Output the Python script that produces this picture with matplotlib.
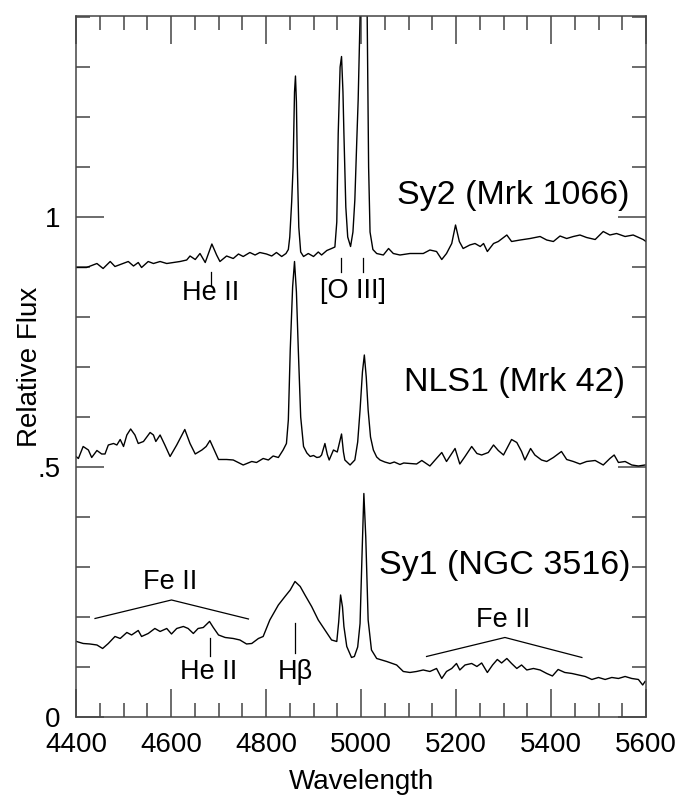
import matplotlib
matplotlib.use('Agg')
import matplotlib.pyplot as plt
from matplotlib.ticker import MultipleLocator

plt.rcParams['font.family'] = ['Liberation Sans', 'DejaVu Sans']

# Sy2 (Mrk 1066)
sy2_wl = [4401, 4422, 4444, 4457, 4472, 4482, 4496, 4510, 4521, 4531, 4538, 4552, 4563, 4577,
          4591, 4605, 4619, 4633, 4640, 4651, 4661, 4672, 4686, 4696, 4703, 4717, 4731, 4742,
          4752, 4766, 4777, 4787, 4801, 4812, 4822, 4833, 4842, 4847, 4850, 4854, 4857, 4860,
          4862, 4864, 4866, 4869, 4873, 4879, 4889, 4900, 4910, 4917, 4928, 4938, 4945, 4949,
          4952, 4956, 4959, 4962, 4964, 4968, 4972, 4978, 4983, 4987, 4991, 4994, 4998, 5002,
          5006, 5010, 5013, 5016, 5019, 5025, 5033, 5047, 5058, 5068, 5082, 5103, 5131, 5145,
          5159, 5170, 5180, 5191, 5199, 5207, 5215, 5229, 5240, 5251, 5258, 5266, 5279, 5289,
          5307, 5317, 5335, 5356, 5377, 5391, 5405, 5419, 5433, 5447, 5461, 5475, 5493, 5510,
          5524, 5538, 5556, 5573, 5594, 5600]
sy2_flux = [0.899, 0.899, 0.907, 0.897, 0.911, 0.901, 0.906, 0.911, 0.902, 0.909, 0.899, 0.911,
            0.907, 0.911, 0.907, 0.909, 0.911, 0.914, 0.922, 0.915, 0.927, 0.909, 0.946, 0.924,
            0.911, 0.922, 0.917, 0.926, 0.921, 0.929, 0.924, 0.929, 0.926, 0.922, 0.929, 0.921,
            0.927, 0.935, 0.96, 1.03, 1.10, 1.25, 1.282, 1.23, 1.10, 0.98, 0.93, 0.921, 0.927,
            0.921, 0.93, 0.924, 0.933, 0.937, 0.94, 0.99, 1.167, 1.30, 1.321, 1.25, 1.167, 1.02,
            0.96, 0.941, 0.97, 1.034, 1.15, 1.234, 1.40, 1.8, 2.1, 1.9, 1.40, 1.1, 0.97, 0.935,
            0.927, 0.924, 0.937, 0.927, 0.924, 0.927, 0.927, 0.934, 0.931, 0.915, 0.927, 0.947,
            0.984, 0.951, 0.937, 0.944, 0.947, 0.941, 0.947, 0.931, 0.947, 0.951, 0.964, 0.951,
            0.954, 0.957, 0.961, 0.954, 0.951, 0.962, 0.957, 0.961, 0.964, 0.959, 0.955, 0.971,
            0.964, 0.967, 0.961, 0.964, 0.955, 0.951]

# NLS1 (Mrk 42)
nls1_wl = [4400, 4405, 4415, 4426, 4433, 4444, 4454, 4461, 4468, 4479, 4486, 4493, 4500, 4507,
           4515, 4524, 4531, 4542, 4556, 4563, 4568, 4577, 4587, 4598, 4612, 4629, 4640, 4651,
           4665, 4674, 4682, 4691, 4700, 4717, 4731, 4752, 4770, 4780, 4794, 4805, 4815, 4826,
           4836, 4843, 4847, 4851, 4856, 4860, 4864, 4868, 4873, 4879, 4886, 4893, 4900, 4907,
           4913, 4917, 4924, 4929, 4933, 4942, 4950, 4955, 4959, 4963, 4966, 4977, 4987, 4993,
           4998, 5003, 5007, 5011, 5015, 5020, 5026, 5033, 5040, 5050, 5061, 5070, 5082, 5090,
           5103, 5117, 5128, 5145, 5156, 5170, 5180, 5198, 5208, 5219, 5233, 5244, 5254, 5268,
           5279, 5289, 5300, 5317, 5328, 5338, 5345, 5357, 5366, 5380, 5391, 5405, 5422, 5433,
           5447, 5461, 5475, 5493, 5510, 5524, 5533, 5542, 5556, 5570, 5584, 5598]
nls1_flux = [0.521, 0.517, 0.541, 0.534, 0.519, 0.533, 0.526, 0.526, 0.544, 0.547, 0.544, 0.555,
             0.541, 0.564, 0.576, 0.564, 0.547, 0.551, 0.569, 0.564, 0.551, 0.564, 0.544, 0.521,
             0.544, 0.575, 0.547, 0.526, 0.534, 0.541, 0.553, 0.534, 0.515, 0.515, 0.514, 0.504,
             0.511, 0.509, 0.517, 0.514, 0.522, 0.519, 0.534, 0.547, 0.594, 0.734, 0.86, 0.911,
             0.85, 0.734, 0.60, 0.541, 0.528, 0.521, 0.523, 0.519, 0.52, 0.524, 0.547, 0.525,
             0.514, 0.534, 0.53, 0.55, 0.566, 0.53, 0.514, 0.504, 0.514, 0.55, 0.614, 0.69, 0.724,
             0.68, 0.614, 0.56, 0.534, 0.52, 0.514, 0.51, 0.507, 0.51, 0.505, 0.508, 0.507, 0.506,
             0.513, 0.502, 0.514, 0.529, 0.511, 0.537, 0.506, 0.521, 0.541, 0.527, 0.524, 0.529,
             0.544, 0.533, 0.524, 0.555, 0.549, 0.531, 0.514, 0.537, 0.524, 0.514, 0.511, 0.519,
             0.531, 0.515, 0.511, 0.506, 0.511, 0.513, 0.504, 0.517, 0.524, 0.509, 0.511, 0.504,
             0.502, 0.504]

# Sy1 (NGC 3516)
sy1_wl = [4401, 4415, 4429, 4444, 4456, 4468, 4482, 4493, 4507, 4517, 4531, 4538, 4552, 4566,
          4577, 4591, 4601, 4612, 4626, 4636, 4647, 4657, 4668, 4681, 4689, 4700, 4714, 4731,
          4745, 4759, 4770, 4784, 4794, 4808, 4826, 4840, 4851, 4861, 4872, 4882, 4896, 4910,
          4924, 4938, 4949, 4953, 4957, 4961, 4964, 4970, 4980, 4986, 4993, 4998, 5002, 5006,
          5010, 5015, 5022, 5033, 5054, 5075, 5089, 5103, 5117, 5131, 5145, 5159, 5170, 5180,
          5191, 5201, 5208, 5219, 5233, 5244, 5254, 5266, 5277, 5287, 5296, 5307, 5317, 5328,
          5338, 5349, 5363, 5377, 5391, 5403, 5415, 5429, 5444, 5458, 5472, 5486, 5500, 5514,
          5528, 5542, 5556, 5570, 5584, 5593, 5598]
sy1_flux = [0.151, 0.147, 0.146, 0.144, 0.137, 0.147, 0.161, 0.157, 0.169, 0.164, 0.173, 0.161,
            0.167, 0.177, 0.171, 0.177, 0.166, 0.177, 0.181, 0.177, 0.167, 0.177, 0.179, 0.191,
            0.179, 0.164, 0.159, 0.157, 0.154, 0.146, 0.147, 0.157, 0.161, 0.194, 0.224, 0.241,
            0.254, 0.271, 0.261, 0.244, 0.221, 0.194, 0.174, 0.154, 0.151, 0.19, 0.244, 0.22,
            0.181, 0.141, 0.119, 0.121, 0.14, 0.187, 0.32, 0.447, 0.36, 0.194, 0.134, 0.117,
            0.111, 0.104, 0.091, 0.089, 0.091, 0.094, 0.091, 0.097, 0.077, 0.091, 0.097, 0.107,
            0.094, 0.104, 0.107, 0.101, 0.108, 0.089, 0.104, 0.115, 0.108, 0.117, 0.107, 0.097,
            0.104, 0.094, 0.097, 0.094, 0.087, 0.082, 0.095, 0.089, 0.087, 0.084, 0.081, 0.075,
            0.079, 0.075, 0.079, 0.077, 0.081, 0.077, 0.075, 0.064, 0.071]

y_ticks = [0, 0.5, 1]
y_ticklabels = ['0', '.5', '1']
x_ticks = [4400, 4600, 4800, 5000, 5200, 5400, 5600]

fig = plt.figure(figsize=(6.8, 8.01), dpi=100)
ax = fig.add_axes([0.1118, 0.1049, 0.8382, 0.8751])

for wl, fl in [(sy2_wl, sy2_flux), (nls1_wl, nls1_flux), (sy1_wl, sy1_flux)]:
    ax.plot(wl, fl, color='black', linewidth=1.0)

ax.set_xlim(4400, 5600)
ax.set_ylim(0, 1.402)
ax.set_xticks(x_ticks)
ax.set_yticks(y_ticks, y_ticklabels)
ax.xaxis.set_minor_locator(MultipleLocator(50))
ax.yaxis.set_minor_locator(MultipleLocator(0.1))
ax.tick_params(which='both', direction='in', top=True, right=True, width=1.1, color='#444444',
               labelsize=20)
ax.tick_params(which='major', length=20)
ax.tick_params(which='minor', length=10)
ax.tick_params(axis='x', pad=11)
ax.tick_params(axis='y', pad=11)
for s in ax.spines.values():
    s.set_linewidth(1.1)
    s.set_color('#444444')

ax.set_xlabel('Wavelength', fontsize=20)
ax.set_ylabel('Relative Flux', fontsize=20)
ax.xaxis.set_label_coords(0.5, -0.074)
ax.yaxis.set_label_coords(-0.058, 0.5)

# object names
ax.text(5320, 1.044, 'Sy2 (Mrk 1066)', fontsize=24.5, ha='center', va='center')
ax.text(5324, 0.668, 'NLS1 (Mrk 42)', fontsize=24.5, ha='center', va='center')
ax.text(5303, 0.302, 'Sy1 (NGC 3516)', fontsize=24.5, ha='center', va='center')

# line identifications
lw = 0.9
ax.plot([4684, 4684], [0.89, 0.864], color='black', linewidth=lw)
ax.text(4684, 0.848, 'He II', fontsize=19.5, ha='center', va='center')
ax.plot([4958, 4958], [0.918, 0.89], color='black', linewidth=lw)
ax.plot([5005, 5005], [0.918, 0.89], color='black', linewidth=lw)
ax.text(4983, 0.852, '[O III]', fontsize=19.5, ha='center', va='center')

ax.plot([4440, 4601, 4763], [0.197, 0.234, 0.196], color='black', linewidth=lw)
ax.text(4599, 0.27, 'Fe II', fontsize=19.5, ha='center', va='center')
ax.plot([4682, 4682], [0.157, 0.121], color='black', linewidth=lw)
ax.text(4680, 0.089, 'He II', fontsize=19.5, ha='center', va='center')
ax.plot([4861, 4861], [0.187, 0.127], color='black', linewidth=lw)
ax.text(4861, 0.09, 'H\u03b2', fontsize=19.5, ha='center', va='center')
ax.plot([5138, 5303, 5465], [0.121, 0.159, 0.119], color='black', linewidth=lw)
ax.text(5299, 0.194, 'Fe II', fontsize=19.5, ha='center', va='center')

fig.savefig('out.png', dpi=100)
